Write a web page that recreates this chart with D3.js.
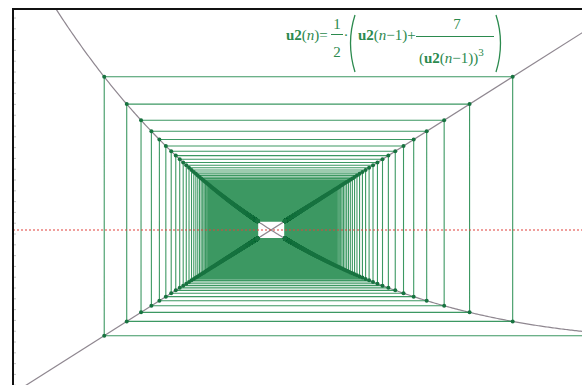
<!DOCTYPE html>
<html>
<head>
<meta charset="utf-8">
<script src="https://cdn.jsdelivr.net/npm/d3@7"></script>
<style>
  html, body { margin: 0; padding: 0; background: #fff; }
  svg { display: block; }
</style>
</head>
<body>
<svg id="chart" width="582" height="385"></svg>
<script>
// Web (cobweb) plot of the sequence  u2(n) = 1/2 · (u2(n-1) + 7 / (u2(n-1))^3)
const firstTerm = [1];               // u2(1)
const termRange = [1, 1300];         // n = 1 .. nMax
const recurrenceCoef = [0.5, 7, 3];  // factor, numerator, exponent
const xWindow = [1.3085, 1.9916];    // visible x range
const yWindow = [1.3395, 2.0358];    // visible y range
const yTickStep = [0.02];

const W = 582, H = 385;
const frame = { left: 13, top: 9 };

const [factor, numer, expo] = recurrenceCoef;
const f = x => factor * (x + numer / Math.pow(x, expo));
const limitValue = Math.pow(numer, 1 / (expo + 1));   // fixed point of the recurrence

// sequence terms
const u = [firstTerm[0]];
for (let n = termRange[0] + 1; n <= termRange[1]; n++) u.push(f(u[u.length - 1]));

const x = d3.scaleLinear().domain(xWindow).range([0, W]);
const y = d3.scaleLinear().domain(yWindow).range([H, frame.top]);

const svg = d3.select("#chart");
svg.append("rect").attr("width", W).attr("height", H).attr("fill", "#fff");

svg.append("defs").append("clipPath").attr("id", "plotClip")
  .append("rect")
  .attr("x", frame.left).attr("y", frame.top)
  .attr("width", W - frame.left).attr("height", H - frame.top);

const plot = svg.append("g").attr("clip-path", "url(#plotClip)");

// y = x and y = f(x)
const xs = d3.range(0, 401).map(i => xWindow[0] + (xWindow[1] - xWindow[0]) * i / 400);
const line = d3.line().x(d => x(d[0])).y(d => y(d[1]));
plot.append("path")
  .datum([[xWindow[0] - 0.1, xWindow[0] - 0.1], [xWindow[1] + 0.1, xWindow[1] + 0.1]])
  .attr("d", line).attr("fill", "none")
  .attr("stroke", "#8f8790").attr("stroke-width", 1.2);
plot.append("path")
  .datum(xs.map(v => [v, f(v)]))
  .attr("d", line).attr("fill", "none")
  .attr("stroke", "#8f8790").attr("stroke-width", 1.2);

// web: vertical to the curve, horizontal to y = x
const web = [[u[0], yWindow[0] - 1], [u[0], u[1]]];
for (let k = 1; k < u.length - 1; k++) {
  web.push([u[k], u[k]]);
  web.push([u[k], u[k + 1]]);
}
plot.append("path")
  .datum(web)
  .attr("d", line).attr("fill", "none")
  .attr("stroke", "#1a8647").attr("stroke-width", 1.1).attr("stroke-opacity", 0.85);

// corner points
const pts = [];
for (let k = 1; k < u.length - 1; k++) {
  pts.push([u[k], u[k]]);
  pts.push([u[k], u[k + 1]]);
}
plot.append("g").selectAll("circle")
  .data(pts).join("circle")
  .attr("cx", d => x(d[0])).attr("cy", d => y(d[1]))
  .attr("r", 2).attr("fill", "#187340");

// limit level
plot.append("line")
  .attr("x1", frame.left).attr("x2", W)
  .attr("y1", y(limitValue)).attr("y2", y(limitValue))
  .attr("stroke", "#e0403a").attr("stroke-width", 1.2)
  .attr("stroke-dasharray", "2,2");

// frame with tick marks on the left edge
const yTicks = d3.range(Math.ceil(yWindow[0] / yTickStep[0]), Math.floor(yWindow[1] / yTickStep[0]) + 1)
  .map(i => i * yTickStep[0]);
svg.append("g")
  .attr("transform", `translate(${frame.left},0)`)
  .call(d3.axisRight(y).tickValues(yTicks).tickSize(3).tickFormat(""))
  .call(g => g.select(".domain").remove())
  .call(g => g.selectAll(".tick line").attr("stroke", "#c4c4c4"));
svg.append("line").attr("x1", frame.left).attr("x2", W).attr("y1", frame.top).attr("y2", frame.top)
  .attr("stroke", "#111").attr("stroke-width", 2);
svg.append("line").attr("x1", frame.left).attr("x2", frame.left).attr("y1", frame.top - 1).attr("y2", H)
  .attr("stroke", "#111").attr("stroke-width", 2);

// formula
const green = "#2b8a4e";
const fm = svg.append("g").attr("fill", green)
  .style("font-family", "'Liberation Serif', 'DejaVu Serif', serif").style("font-size", "15px");

function seqText(sel, xPos, yPos, anchor) {
  return sel.append("text").attr("x", xPos).attr("y", yPos).attr("text-anchor", anchor || "start");
}
// u2(n)=
let t = seqText(fm, 286, 40);
t.append("tspan").attr("font-weight", "bold").text("u2");
t.append("tspan").text("(");
t.append("tspan").attr("font-style", "italic").text("n");
t.append("tspan").text(")=");
// 1/2
seqText(fm, 337, 29, "middle").text("1");
fm.append("line").attr("x1", 331).attr("x2", 343).attr("y1", 34.5).attr("y2", 34.5)
  .attr("stroke", green).attr("stroke-width", 1);
seqText(fm, 337, 57, "middle").text("2");
seqText(fm, 346, 40, "middle").text("·");
// big parentheses
fm.append("path").attr("d", "M355,15 Q346,43 355,72").attr("fill", "none")
  .attr("stroke", green).attr("stroke-width", 1.3);
fm.append("path").attr("d", "M496,15 Q505,43 496,72").attr("fill", "none")
  .attr("stroke", green).attr("stroke-width", 1.3);
// u2(n-1)+
t = seqText(fm, 358, 40);
t.append("tspan").attr("font-weight", "bold").text("u2");
t.append("tspan").text("(");
t.append("tspan").attr("font-style", "italic").text("n");
t.append("tspan").text("\u22121)+");
// 7 / (u2(n-1))^3
seqText(fm, 457, 29, "middle").text("7");
fm.append("line").attr("x1", 416).attr("x2", 494).attr("y1", 36.5).attr("y2", 36.5)
  .attr("stroke", green).attr("stroke-width", 1);
t = seqText(fm, 419, 63);
t.append("tspan").text("(");
t.append("tspan").attr("font-weight", "bold").text("u2");
t.append("tspan").text("(");
t.append("tspan").attr("font-style", "italic").text("n");
t.append("tspan").text("\u22121))");
t.append("tspan").attr("dy", -7).attr("font-size", "11px").text("3");
</script>
</body>
</html>
